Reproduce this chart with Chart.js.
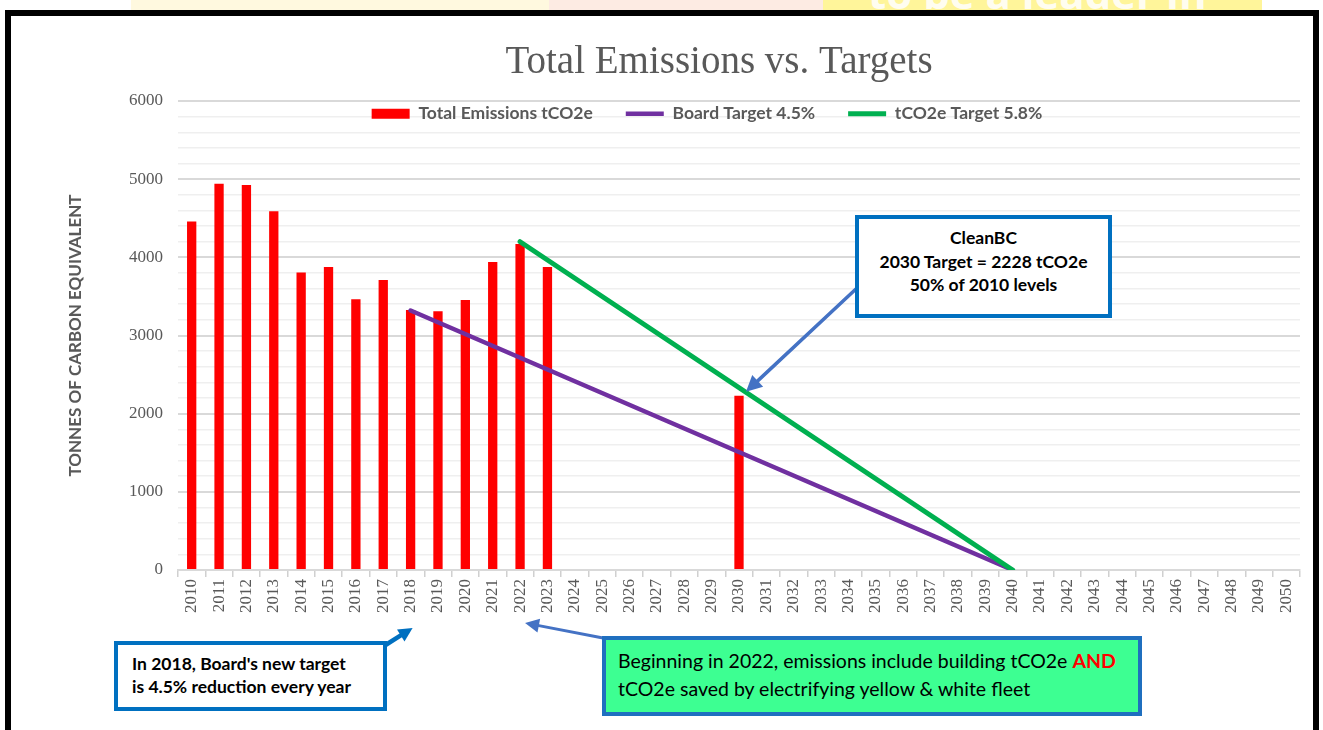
<!DOCTYPE html>
<html>
<head>
<meta charset="utf-8">
<script src="https://cdn.jsdelivr.net/npm/chart.js@4/dist/chart.umd.min.js"></script>
<style>
  html, body { margin:0; padding:0; background:#fff; width:1323px; height:730px; overflow:hidden; }
  #strip { position:absolute; left:0; top:0; width:1323px; height:11px; overflow:hidden; background:#fff; }
  .band { position:absolute; top:0; height:11px; }
  #stripText { position:absolute; left:868px; top:-36px; font:bold 42px "Open Sans", sans-serif; color:#fff; white-space:nowrap; opacity:0.85; }
  #frame { position:absolute; left:5px; top:10px; width:1302px; height:740px; border:6px solid #000; border-bottom:none; background:#fff; }
  #wrap { position:absolute; left:0; top:0; width:1323px; height:730px; }
  .box { position:absolute; box-sizing:border-box; font-family:Lato, "Open Sans", sans-serif; color:#000; white-space:nowrap; }
  #b1 { left:855px; top:215px; width:257px; height:103px; border:4px solid #0070C0; background:#fff; text-align:center; font-weight:bold; font-size:17.5px; line-height:23.5px; padding-top:7px; }
  #b2 { left:114px; top:641px; width:273px; height:70px; border:4px solid #0070C0; background:#fff; font-weight:bold; font-size:17.5px; line-height:23px; padding:7px 0 0 14px; }
  #b3 { left:602px; top:636px; width:540px; height:80px; border:4px solid #1F6FBF; background:#3DFF92; font-size:19.5px; line-height:28px; padding:7px 0 0 12px; }
  #b3 .and { color:#FF0000; font-weight:bold; }
</style>
</head>
<body>
<div id="strip">
  <div class="band" style="left:131px;width:418px;background:#FFF9DF;"></div>
  <div class="band" style="left:549px;width:274px;background:#FDEBE3;"></div>
  <div class="band" style="left:823px;width:439px;background:#FFF59A;"></div>
  <div id="stripText">to be a leader in</div>
</div>
<div id="frame"></div>
<div id="wrap"><canvas id="c" width="1323" height="730"></canvas></div>
<div class="box" id="b1">CleanBC<br>2030 Target = 2228 tCO2e<br>50% of 2010 levels</div>
<div class="box" id="b2">In 2018, Board's new target<br>is 4.5% reduction every year</div>
<div class="box" id="b3">Beginning in 2022, emissions include building tCO2e <span class="and">AND</span><br>tCO2e saved by electrifying yellow &amp; white fleet</div>
<script>
// ---- data ----
const years = ['2010','2011','2012','2013','2014','2015','2016','2017','2018','2019',
  '2020','2021','2022','2023','2024','2025','2026','2027','2028','2029',
  '2030','2031','2032','2033','2034','2035','2036','2037','2038','2039',
  '2040','2041','2042','2043','2044','2045','2046','2047','2048','2049','2050'];
const totalEmissions = [4460,4940,4925,4590,3805,3875,3465,3710,3325,3310,
  3455,3940,4170,3875,null,null,null,null,null,null,
  2228,null,null,null,null,null,null,null,null,null,
  null,null,null,null,null,null,null,null,null,null,null];
const boardTarget = [null,null,null,null,null,null,null,null,3320,null,
  null,null,null,null,null,null,null,null,null,null,
  null,null,null,null,null,null,null,null,null,null,
  0,null,null,null,null,null,null,null,null,null,null];
const co2Target = [null,null,null,null,null,null,null,null,null,null,
  null,null,4200,null,null,null,null,null,null,null,
  null,null,null,null,null,null,null,null,null,null,
  0,null,null,null,null,null,null,null,null,null,null];
const seriesNames = ['Total Emissions tCO2e','Board Target 4.5%','tCO2e Target 5.8%'];
const yTickLabels = [0,1000,2000,3000,4000,5000,6000];

const GREY = '#595959';

// place title/legend where the reference has them
const shiftPlugin = {
  id: 'shift',
  afterLayout(chart) {
    const t = chart.titleBlock;
    if (t) { const dx = 719 - (t.left + t.right) / 2; t.left += dx; t.right += dx; }
    const l = chart.legend;
    if (l) {
      const dx = 707 - (l.left + l.right) / 2; l.left += dx; l.right += dx;
      l.top = 72; l.height = 64; l.bottom = l.top + l.height;
    }
  }
};

function arrow(ctx, x1, y1, x2, y2, color, w, head) {
  const a = Math.atan2(y2 - y1, x2 - x1);
  const bx = x2 - head * Math.cos(a), by = y2 - head * Math.sin(a);
  ctx.save();
  ctx.strokeStyle = color; ctx.fillStyle = color; ctx.lineWidth = w; ctx.lineCap = 'round';
  ctx.beginPath(); ctx.moveTo(x1, y1); ctx.lineTo(bx, by); ctx.stroke();
  ctx.beginPath();
  ctx.moveTo(x2, y2);
  ctx.lineTo(bx + head * 0.5 * Math.sin(a), by - head * 0.5 * Math.cos(a));
  ctx.lineTo(bx - head * 0.5 * Math.sin(a), by + head * 0.5 * Math.cos(a));
  ctx.closePath(); ctx.fill();
  ctx.restore();
}

const arrowPlugin = {
  id: 'arrows',
  afterDraw(chart) {
    const ctx = chart.ctx, xs = chart.scales.x, ys = chart.scales.y, bottom = chart.chartArea.bottom;
    arrow(ctx, 857, 288, xs.getPixelForValue(20) + 7, ys.getPixelForValue(2280), '#4472C4', 3.5, 16);
    arrow(ctx, 384, 646, xs.getPixelForValue(8) + 2, bottom + 58, '#0070C0', 4.5, 14);
    arrow(ctx, 603, 638, xs.getPixelForValue(12) + 5, bottom + 53, '#4472C4', 3, 14);
  }
};

new Chart(document.getElementById('c'), {
  type: 'bar',
  data: {
    labels: years,
    datasets: [
      { type:'bar', label: seriesNames[0], data: totalEmissions, backgroundColor:'#FF0000', borderWidth:0,
        barPercentage:0.34, categoryPercentage:1.0, pointStyle:'rect', order:2 },
      { type:'line', label: seriesNames[1], data: boardTarget, borderColor:'#7030A0', borderWidth:4.5,
        pointRadius:0, pointStyle:'line', pointBorderColor:'#7030A0', pointBackgroundColor:'#7030A0', pointBorderWidth:4.5,
        spanGaps:true, borderCapStyle:'round', fill:false, order:1 },
      { type:'line', label: seriesNames[2], data: co2Target, borderColor:'#00B050', borderWidth:5,
        pointRadius:0, pointStyle:'line', pointBorderColor:'#00B050', pointBackgroundColor:'#00B050', pointBorderWidth:5,
        spanGaps:true, borderCapStyle:'round', fill:false, order:0 }
    ]
  },
  options: {
    responsive:false, animation:false, devicePixelRatio:1, events:[],
    layout: { padding: { left:40, right:23, top:10, bottom:115 } },
    plugins: {
      title: { display:true, text:'Total Emissions vs. Targets', color:GREY,
        font:{ family:'"Liberation Serif", "Times New Roman", serif', size:39, weight:'normal', lineHeight:1.2 },
        padding:{ top:29, bottom:15.2 } },
      legend: { display:true, position:'top', align:'center', maxHeight:0.01,
        labels: { usePointStyle:true, pointStyleWidth:38, boxHeight:10, padding:33, color:GREY,
          font:{ family:'Lato, "Open Sans", sans-serif', size:17.5, weight:'bold' },
          sort:(a,b) => a.datasetIndex - b.datasetIndex } },
      tooltip: { enabled:false }
    },
    scales: {
      x: {
        offset:true,
        grid: { drawOnChartArea:false, drawTicks:true, tickLength:7, color:'#d0d0d0', lineWidth:1.5, offset:true },
        border: { display:true, color:'#d9d9d9', width:2 },
        ticks: { autoSkip:false, maxRotation:90, minRotation:90, padding:2, color:GREY,
          font:{ family:'"Liberation Serif", "Times New Roman", serif', size:17 } }
      },
      y: {
        min:0, max:6000,
        afterFit(s) { s.width = 138; },
        grid: { drawTicks:false,
          color:(c) => (c.tick && c.tick.value % 1000 === 0) ? '#d9d9d9' : '#efefef',
          lineWidth:(c) => (c.tick && c.tick.value % 1000 === 0) ? 2 : 1.5 },
        border: { display:false },
        ticks: { stepSize:200, autoSkip:false, padding:15, color:GREY,
          font:{ family:'"Liberation Serif", "Times New Roman", serif', size:17 },
          callback:(v) => yTickLabels.includes(v) ? String(v) : '' },
        title: { display:true, text:'TONNES OF CARBON EQUIVALENT', color:GREY,
          font:{ family:'Lato, "Open Sans", sans-serif', size:17, weight:'bold', lineHeight:1.2 },
          padding:{ top:25, bottom:10 } }
      }
    }
  },
  plugins:[shiftPlugin, arrowPlugin]
});
</script>
</body>
</html>
